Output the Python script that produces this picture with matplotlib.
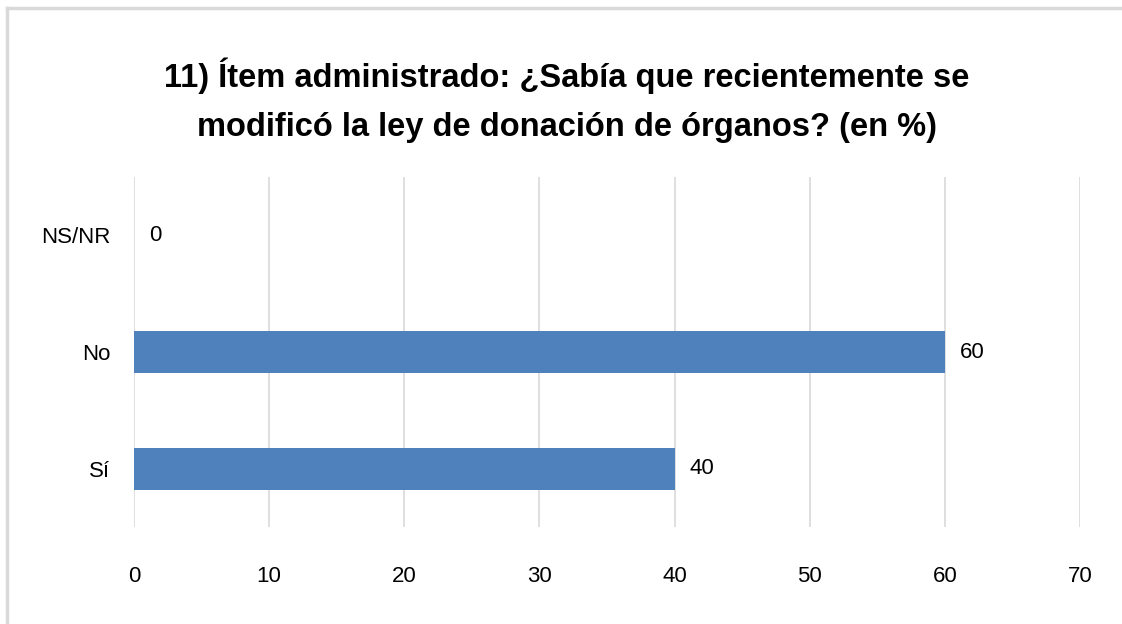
import matplotlib.pyplot as plt

plt.rcParams['font.family'] = ['Liberation Sans', 'DejaVu Sans']

categories = ['Sí', 'No', 'NS/NR']
values = [40, 60, 0]
xticks = [0, 10, 20, 30, 40, 50, 60, 70]

fig = plt.figure(figsize=(11.22, 6.24), dpi=100)
ax = fig.add_axes([134/1122, 1-527/624, (1080-134)/1122, (527-177)/624])

ypos = range(len(categories))
ax.barh(ypos, values, height=0.36, color='#4F81BD', zorder=3)
for y, v in zip(ypos, values):
    ax.text(v + 1.1, y, str(v), va='center', ha='left', fontsize=16)

ax.set_xlim(0, 70)
ax.set_ylim(-0.5, 2.5)
ax.set_xticks(xticks)
ax.set_yticks(list(ypos))
ax.set_yticklabels(categories)
ax.tick_params(axis='both', length=0, labelsize=16)
ax.tick_params(axis='x', pad=28)
ax.tick_params(axis='y', pad=17)
ax.grid(axis='x', color='#D9D9D9', lw=1.2, zorder=0)
for s in ax.spines.values():
    s.set_visible(False)

fig.text(0.505, 0.84, '11) Ítem administrado: ¿Sabía que recientemente se\nmodificó la ley de donación de órganos? (en %)',
         ha='center', va='center', fontsize=23.5, fontweight='bold', linespacing=1.75)

# chart frame
fig.add_artist(plt.Line2D([7/1122, 7/1122], [0, 1-8/624], color='#D9D9D9', lw=2.5))
fig.add_artist(plt.Line2D([7/1122, 1], [1-8/624, 1-8/624], color='#D9D9D9', lw=2.5))

fig.savefig('out.png', dpi=100)
